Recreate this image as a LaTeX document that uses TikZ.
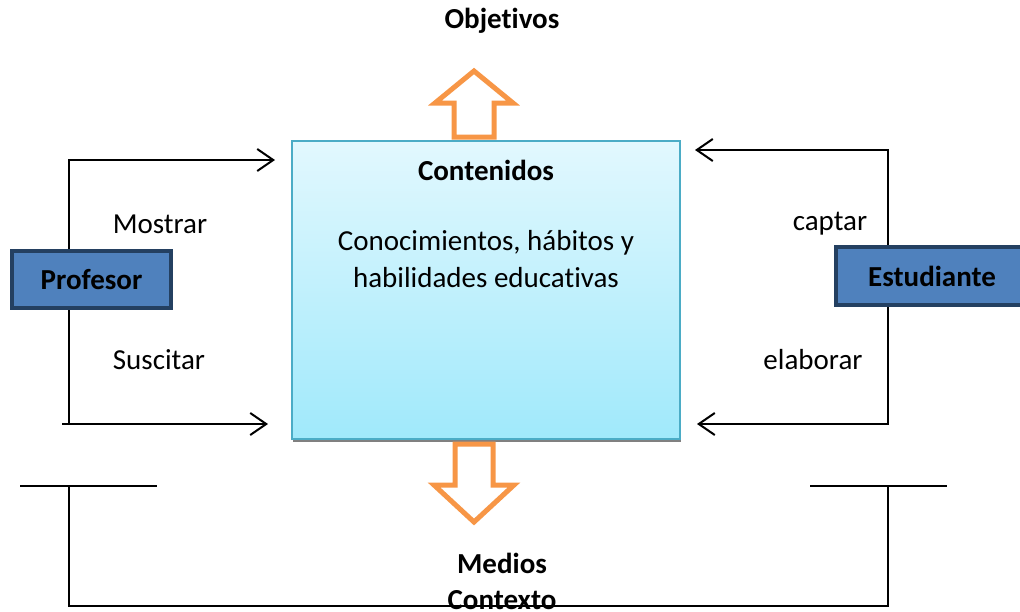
\documentclass[tikz,border=0pt]{standalone}
\usepackage{fontspec}
\setmainfont{Carlito}[RawFeature={-liga;-clig;-dlig;-calt}]
\usepackage{tikz}
\usetikzlibrary{arrows.meta,shadows}

\definecolor{azulcaja}{RGB}{79,129,189}
\definecolor{bordecaja}{RGB}{36,64,97}
\definecolor{celesteA}{RGB}{226,248,254}
\definecolor{celesteB}{RGB}{160,233,251}
\definecolor{bordecont}{RGB}{75,172,198}
\definecolor{naranja}{RGB}{247,150,70}
\newcommand{\letra}{\fontsize{29}{37}\selectfont}

\begin{document}
\begin{tikzpicture}[x=1pt,y=-1pt,
	every node/.style={font=\letra},
	actor/.style={draw=bordecaja, line width=4pt, fill=azulcaja, font=\letra\bfseries, inner sep=0pt},
	titulo/.style={font=\letra\bfseries, align=center},
	conector/.style={line width=2pt},
	flecha/.style={conector, -{Straight Barb[length=16pt,width=22pt,line width=2pt]}},
	bloque/.style={draw=naranja, line width=5pt, fill=white, miter limit=20}]
	\useasboundingbox (0,0) rectangle (1020,611);
	\clip (0,0) rectangle (1020,611);

	\node [draw=bordecont, line width=2pt, top color=celesteA, bottom color=celesteB, minimum width=388pt, minimum height=298pt,
		drop shadow={shadow xshift=1pt, shadow yshift=-3pt, fill=gray, opacity=1}] (cont) at (486,290) {};
	\node [titulo] (contl) at (486,170) {Contenidos};
	\node [align = center] (contt) at (486,259) {Conocimientos, hábitos y\\habilidades educativas};

	\node [actor, minimum width=159pt, minimum height=57pt] (prof) at (91.5,279.5) {\raisebox{-7pt}{Profesor}};
	\node [actor, minimum width=192pt, minimum height=58pt] (est) at (932,276) {\raisebox{-8pt}{Estudiante}};

	\node [titulo] (obj) at (502,21) {Objetivos};
	\node [titulo] (med) at (502,563) {Medios};
	\node [titulo] (ctx) at (502,600) {Contexto};

	% flechas gruesas
	\draw [bloque] (474,71) -- (513,103) -- (494,103) -- (494,137) -- (454,137) -- (454,103) -- (435,103) -- cycle;
	\draw [bloque] (455,444) -- (493,444) -- (493,485) -- (514,485) -- (474,522) -- (434,485) -- (455,485) -- cycle;

	% profesor
	\coordinate (m1) at (275,160);
	\coordinate (s0) at (62,424);
	\coordinate (s1) at (268,424);
	\draw [flecha] ([xshift=-22.5pt]prof.north) |- (m1);
	\draw [conector] ([xshift=-22.5pt]prof.south) |- (s0);
	\draw [flecha] (s0) -- (s1);
	\node (mos) at (160,224) {Mostrar};
	\node (sus) at (159,360) {Suscitar};

	% estudiante
	\coordinate (c1) at (695,150);
	\coordinate (e1) at (697,424);
	\draw [flecha] ([xshift=-44pt]est.north) |- (c1);
	\draw [flecha] ([xshift=-44pt]est.south) |- (e1);
	\node (cap) at (830,224) {captar};
	\node (ela) at (813,360) {elaborar};

	% marco inferior
	\coordinate (bi1) at (20,486);
	\coordinate (bi2) at (157,486);
	\coordinate (bd1) at (810,486);
	\coordinate (bd2) at (947,486);
	\coordinate (fi) at (69,606);
	\coordinate (fd) at (888,606);
	\draw [conector] (bi1) -- (bi2);
	\draw [conector] (bd1) -- (bd2);
	\draw [conector] (bi1 -| fi) -- (fi) -- (fd) -- (bd1 -| fd);
\end{tikzpicture}
\end{document}
